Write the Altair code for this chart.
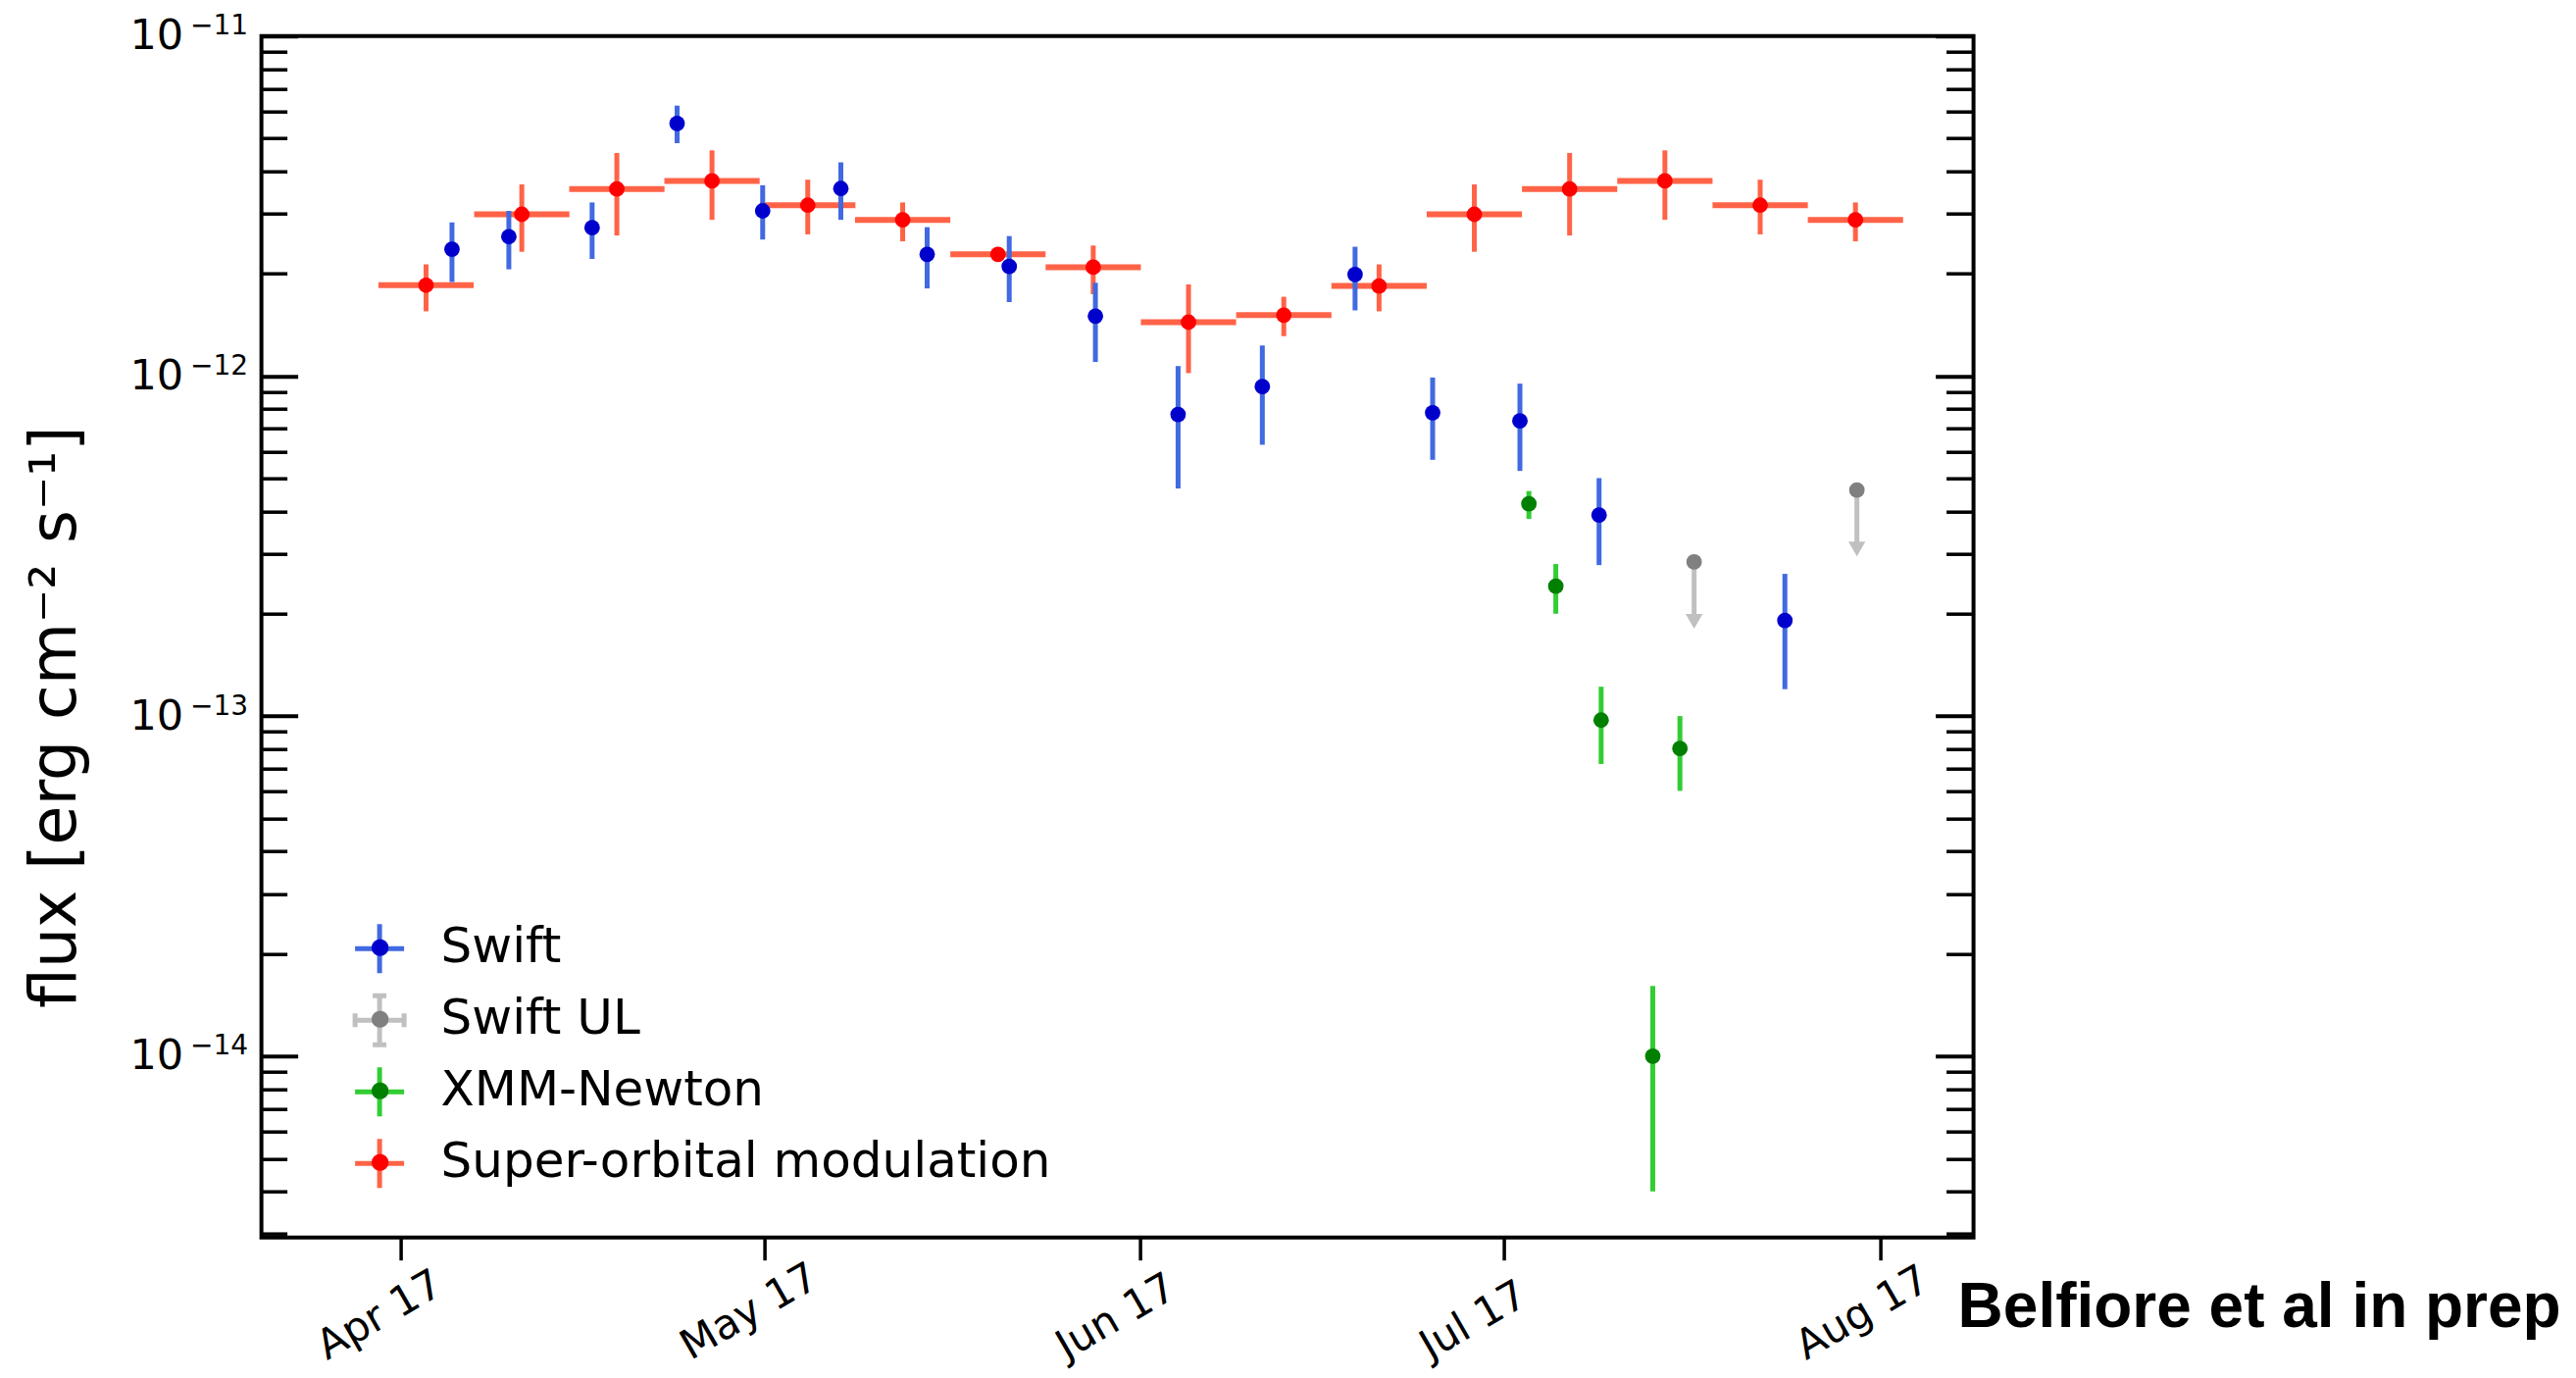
import altair as alt
import pandas as pd

# ---------------- data ----------------
series_order = ["Swift", "Swift UL", "XMM-Newton", "Super-orbital modulation"]
bar_colors = ["#4169e1", "#c0c0c0", "#32cd32", "#ff6347"]
dot_colors = ["#0000cd", "#808080", "#008000", "#ff0000"]

swift_date = ["2017-04-05T04:48", "2017-04-09T21:22", "2017-04-16T18:14", "2017-04-23T18:29",
              "2017-04-30T19:55", "2017-05-07T06:43", "2017-05-14T09:36", "2017-05-21T04:05",
              "2017-05-28T06:43", "2017-06-04T02:24", "2017-06-11T01:12", "2017-06-18T16:48",
              "2017-06-25T02:24", "2017-07-02T07:12", "2017-07-08T19:55", "2017-07-24T03:50"]
swift_flux = [2.36e-12, 2.57e-12, 2.73e-12, 5.53e-12, 3.06e-12, 3.56e-12, 2.28e-12, 2.10e-12,
              1.50e-12, 7.71e-13, 9.31e-13, 1.99e-12, 7.80e-13, 7.38e-13, 3.90e-13, 1.91e-13]
swift_lo = [1.89e-12, 2.06e-12, 2.21e-12, 4.84e-12, 2.52e-12, 2.88e-12, 1.81e-12, 1.65e-12,
            1.10e-12, 4.67e-13, 6.28e-13, 1.56e-12, 5.67e-13, 5.26e-13, 2.78e-13, 1.20e-13]
swift_hi = [2.83e-12, 3.06e-12, 3.24e-12, 6.24e-12, 3.64e-12, 4.25e-12, 2.74e-12, 2.58e-12,
            1.88e-12, 1.07e-12, 1.23e-12, 2.40e-12, 9.90e-13, 9.50e-13, 5.01e-13, 2.62e-13]

ul_date = ["2017-07-16T16:05", "2017-07-30T02:24"]
ul_flux = [2.84e-13, 4.62e-13]
ul_arrow = [1.90e-13, 3.10e-13]

xmm_date = ["2017-07-03T00:58", "2017-07-05T06:14", "2017-07-09T00:00",
            "2017-07-13T06:14", "2017-07-15T12:00"]
xmm_flux = [4.21e-13, 2.41e-13, 9.73e-14, 1.00e-14, 8.03e-14]
xmm_lo = [3.80e-13, 2.00e-13, 7.23e-14, 4.0e-15, 6.03e-14]
xmm_hi = [4.59e-13, 2.80e-13, 1.22e-13, 1.61e-14, 1.00e-13]

sup_date = ["2017-04-03T01:26", "2017-04-10T23:02", "2017-04-18T19:12", "2017-04-26T15:36",
            "2017-05-04T13:12", "2017-05-12T09:07", "2017-05-20T05:46", "2017-05-28T02:24",
            "2017-06-04T23:02", "2017-06-12T19:41", "2017-06-20T16:19", "2017-06-28T12:58",
            "2017-07-06T09:36", "2017-07-14T06:14", "2017-07-22T02:53", "2017-07-29T23:31"]
sup_flux = [1.85e-12, 2.99e-12, 3.55e-12, 3.75e-12, 3.18e-12, 2.88e-12, 2.28e-12, 2.09e-12,
            1.44e-12, 1.51e-12, 1.84e-12, 2.99e-12, 3.55e-12, 3.75e-12, 3.18e-12, 2.88e-12]
sup_lo = [1.55e-12, 2.32e-12, 2.59e-12, 2.88e-12, 2.61e-12, 2.49e-12, 2.20e-12, 1.74e-12,
          1.02e-12, 1.31e-12, 1.55e-12, 2.32e-12, 2.59e-12, 2.88e-12, 2.61e-12, 2.49e-12]
sup_hi = [2.13e-12, 3.66e-12, 4.53e-12, 4.61e-12, 3.78e-12, 3.24e-12, 2.36e-12, 2.42e-12,
          1.86e-12, 1.71e-12, 2.13e-12, 3.66e-12, 4.53e-12, 4.61e-12, 3.78e-12, 3.24e-12]
sup_halfwidth_days = 3.93

major_ticks = [1e-14, 1e-13, 1e-12, 1e-11]
minor_ticks = [k * 10.0 ** e for e in (-15, -14, -13, -12) for k in range(2, 10)
               if k * 10.0 ** e >= 2.93e-15]
month_ticks = [alt.DateTime(year=2017, month=m, date=1) for m in (4, 5, 6, 7, 8)]

# ---------------- tables ----------------
swift_df = pd.DataFrame({"t": pd.to_datetime(swift_date), "flux": swift_flux,
                         "lo": swift_lo, "hi": swift_hi, "series": "Swift"})
ul_df = pd.DataFrame({"t": pd.to_datetime(ul_date), "flux": ul_flux,
                      "arrow": ul_arrow, "series": "Swift UL"})
xmm_df = pd.DataFrame({"t": pd.to_datetime(xmm_date), "flux": xmm_flux,
                       "lo": xmm_lo, "hi": xmm_hi, "series": "XMM-Newton"})
sup_t = pd.to_datetime(sup_date)
sup_df = pd.DataFrame({"t": sup_t, "flux": sup_flux, "lo": sup_lo, "hi": sup_hi,
                       "start": sup_t - pd.Timedelta(days=sup_halfwidth_days),
                       "end": sup_t + pd.Timedelta(days=sup_halfwidth_days),
                       "series": "Super-orbital modulation"})

W, H = 1746, 1225
FONT = "DejaVu Sans"

yscale = alt.Scale(type="log", domain=[2.93e-15, 1e-11], nice=False)
xscale = alt.Scale(domain=[alt.DateTime(year=2017, month=3, date=20, hours=11, minutes=31),
                           alt.DateTime(year=2017, month=8, date=8, hours=17, minutes=17)])

legend_dots = alt.Legend(title=None, orient="none", legendX=96, legendY=893,
                         direction="vertical", symbolType="circle", symbolSize=300,
                         symbolStrokeWidth=0, labelFontSize=50, labelFont=FONT,
                         labelColor="black", labelOffset=37, padding=0, rowPadding=0,
                         clipHeight=73, labelLimit=1200, symbolOpacity=1, zindex=2)
dot_fill = alt.Fill("series:N", scale=alt.Scale(domain=series_order, range=dot_colors),
                    legend=legend_dots)

X = lambda f: alt.X(f, scale=xscale, axis=None)
Y = lambda f: alt.Y(f, scale=yscale, axis=None)
bar_of = dict(zip(series_order, bar_colors))


def vbars(df, name):
    return alt.Chart(df).mark_rule(strokeWidth=5, color=bar_of[name]).encode(
        x=X("t:T"), y=Y("lo:Q"), y2="hi:Q")


def dots(df):
    return alt.Chart(df).mark_circle(size=250, opacity=1).encode(
        x=X("t:T"), y=Y("flux:Q"), fill=dot_fill)


sup_h = alt.Chart(sup_df).mark_rule(strokeWidth=6, color=bar_of["Super-orbital modulation"]).encode(
    x=X("start:T"), x2="end:T", y=Y("flux:Q"))
ul_line = alt.Chart(ul_df).mark_rule(strokeWidth=5, color=bar_of["Swift UL"]).encode(
    x=X("t:T"), y=Y("flux:Q"), y2="arrow:Q")
ul_head = alt.Chart(ul_df).mark_point(shape="triangle-down", filled=True, size=300,
                                      opacity=1, color=bar_of["Swift UL"]).encode(
    x=X("t:T"), y=Y("arrow:Q"))

# legend crosses (a second legend, placed under the dot legend)
cross = "M-1,0H1M0,-1V1"
cross_caps = ("M-1,0H1M0,-1V1M-1,-0.28V0.28M1,-0.28V0.28"
              "M-0.28,-1H0.28M-0.28,1H0.28")
cross_domain = [s + " " for s in series_order]
legend_cross = alt.Legend(title=None, orient="bottom-left", offset=39, symbolOffset=54,
                          direction="vertical", symbolSize=2500,
                          symbolStrokeWidth=5, symbolFillColor="transparent",
                          labelFontSize=50, labelFont=FONT, labelExpr="''", padding=0,
                          rowPadding=0, clipHeight=73, labelLimit=1200, symbolOpacity=1,
                          zindex=1)
empty_s = pd.DataFrame({"k": pd.Series([], dtype=str)})
legend_layer = alt.Chart(empty_s).mark_point(filled=False, strokeWidth=5, opacity=1).encode(
    stroke=alt.Stroke("k:N", scale=alt.Scale(domain=cross_domain, range=bar_colors),
                      legend=legend_cross),
    shape=alt.Shape("k:N", scale=alt.Scale(domain=cross_domain,
                                           range=[cross, cross_caps, cross, cross]),
                    legend=legend_cross),
)

# ---------------- axes ----------------
empty_v = pd.DataFrame({"v": pd.Series([], dtype=float)})
empty_t = pd.DataFrame({"t": pd.Series([], dtype="datetime64[ns]")})


def yaxis_layer(axis):
    return alt.Chart(empty_v).mark_point().encode(y=alt.Y("v:Q", scale=yscale, axis=axis))


common = dict(grid=False, domain=False, labelOverlap=False, labelFlush=False, labelBound=False)

ax_ten = alt.Axis(orient="left", values=major_ticks, labelExpr="'10'", labelFontSize=43,
                  labelFont=FONT, labelColor="black", labelPadding=80, ticks=False, tickSize=0,
                  labelBaseline="middle",
                  title="flux [erg cm\u207b\u00b2 s\u207b\u00b9]", titleFontSize=65,
                  titleFont=FONT, titleFontWeight="normal", titleColor="black",
                  titleAngle=270, titleAlign="center", titleBaseline="alphabetic",
                  titleX=-190, titleY=694, **common)
ax_exp = alt.Axis(orient="left", values=major_ticks,
                  labelExpr="'\u2212' + format(-round(log(datum.value) / LN10), 'd')",
                  labelFontSize=28, labelFont=FONT, labelColor="black", labelPadding=14,
                  labelOffset=-10, labelBaseline="middle", ticks=False, tickSize=0,
                  title=None, **common)
ax_l_major = alt.Axis(orient="right", offset=-W, values=major_ticks, labels=False, ticks=True,
                      tickSize=37, tickWidth=4, tickColor="black", title=None, **common)
ax_l_minor = alt.Axis(orient="right", offset=-W, values=minor_ticks, labels=False, ticks=True,
                      tickSize=26, tickWidth=3.5, tickColor="black", title=None, **common)
ax_r_major = alt.Axis(orient="left", offset=-W, values=major_ticks, labels=False, ticks=True,
                      tickSize=39, tickWidth=4, tickColor="black", title=None, **common)
ax_r_minor = alt.Axis(orient="left", offset=-W, values=minor_ticks, labels=False, ticks=True,
                      tickSize=28, tickWidth=3.5, tickColor="black", title=None, **common)

ax_x = alt.Axis(orient="bottom", values=month_ticks, format="%b %y", formatType="time",
                labelAngle=330, labelAlign="left", labelBaseline="alphabetic",
                labelOffset=-76, labelPadding=102, labelFontSize=42, labelFont=FONT,
                labelColor="black", tickSize=23, tickWidth=3.5, tickColor="black",
                title=None, **common)
x_layer = alt.Chart(empty_t).mark_point().encode(x=alt.X("t:T", scale=xscale, axis=ax_x))

note = alt.Chart(pd.DataFrame({"note": ["Belfiore et al in prep"]})).mark_text(
    align="left", baseline="alphabetic", font="Liberation Sans", fontWeight="bold",
    fontSize=64, color="black").encode(x=alt.value(1730), y=alt.value(1316), text="note:N")

chart = alt.layer(
    vbars(sup_df, "Super-orbital modulation"), sup_h, dots(sup_df),
    vbars(swift_df, "Swift"), dots(swift_df),
    ul_line, ul_head, dots(ul_df),
    vbars(xmm_df, "XMM-Newton"), dots(xmm_df),
    legend_layer,
    x_layer,
    yaxis_layer(ax_ten), yaxis_layer(ax_exp),
    yaxis_layer(ax_l_major), yaxis_layer(ax_l_minor),
    yaxis_layer(ax_r_major), yaxis_layer(ax_r_minor),
    note,
).resolve_axis(x="independent", y="independent").properties(
    width=W, height=H,
    autosize=alt.AutoSizeParams(type="none"),
    padding={"left": 258.6, "top": 28.7, "right": 600, "bottom": 134},
    background="white",
).configure(font=FONT).configure_view(stroke="black", strokeWidth=4)

chart.save("out.html", embed_options={"renderer": "svg", "actions": False})
